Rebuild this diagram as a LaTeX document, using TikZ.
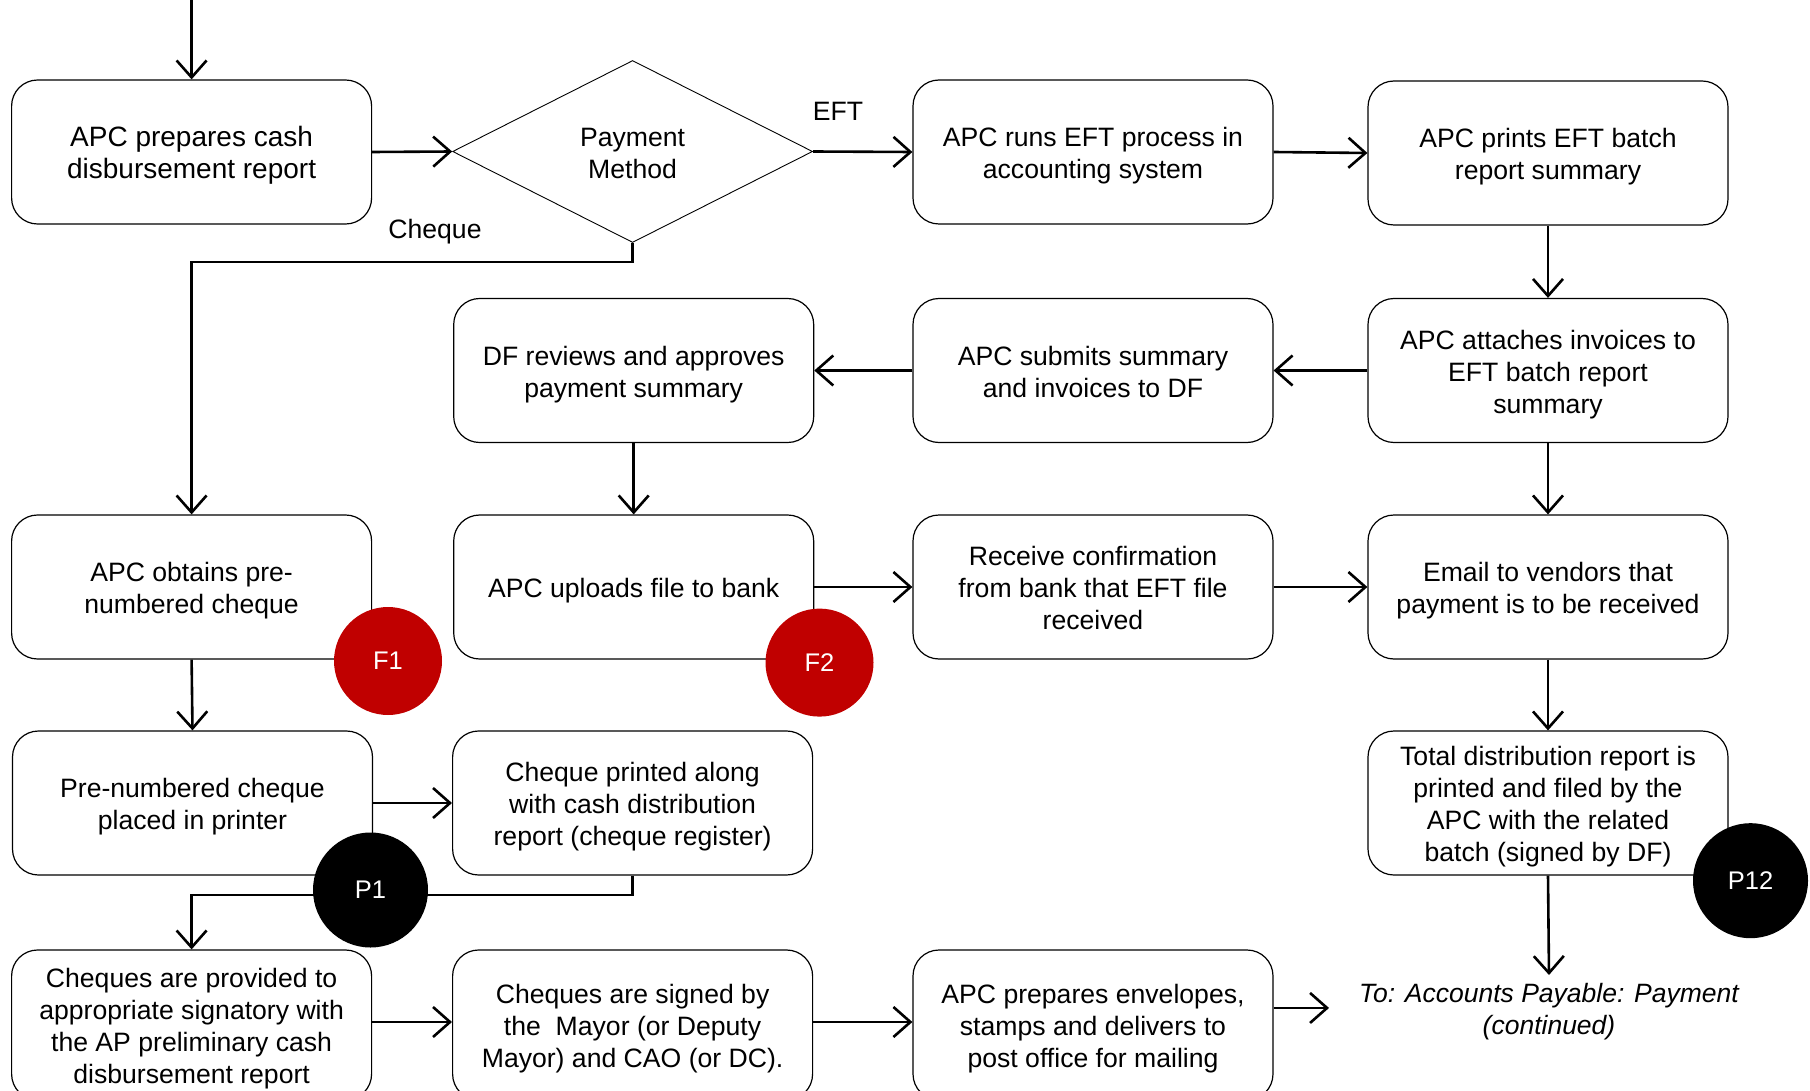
\documentclass[tikz,border=0pt]{standalone}
\usepackage{fontspec}
\setmainfont{Liberation Sans}
\usetikzlibrary{arrows.meta,shapes.geometric}
\definecolor{fred}{HTML}{C00000}
\newcommand\topst{\rule{0pt}{27.5pt}}
\newcommand\botst{\rule[-6pt]{0pt}{0pt}}
\begin{document}
\begin{tikzpicture}[x=1pt,y=-1pt,
  font=\fontsize{26.6}{32}\selectfont,
  box/.style={draw, line width=1.2pt, rounded corners=26pt, minimum width=360pt,
    minimum height=144pt, align=center, inner sep=0pt},
  lowbox/.style={box, minimum height=150pt},
  conn/.style={line width=2.6pt, -{Straight Barb[length=17pt,width=30pt]}},
  fcirc/.style={circle, fill=fred, text=white, minimum size=108pt, inner sep=0pt,
    font=\fontsize{25.5}{30}\selectfont},
  pcirc/.style={circle, fill=black, text=white, minimum size=115pt, inner sep=0pt,
    font=\fontsize{25.5}{30}\selectfont},
  lbl/.style={inner sep=0pt}]
\useasboundingbox (0,0) rectangle (1810,1091);

% row 1
\node[box, font=\fontsize{28}{32.3}\selectfont] (A) at (191.6,152) {\topst APC prepares cash\\disbursement report\botst};
\node[diamond, draw, line width=0.9pt, minimum width=360pt, minimum height=182pt,
  inner sep=0pt, align=center] (D) at (632.6,151.5) {\topst Payment\\Method\botst};
\node[box] (run) at (1093,152) {\topst APC runs EFT process in\\accounting system\botst};
\node[box] (prt) at (1548,153) {\topst APC prints EFT batch\\report summary\botst};
% row 2
\node[box] (df) at (633.7,370.5) {\topst DF reviews and approves\\payment summary\botst};
\node[box] (sub) at (1093,370.5) {\topst APC submits summary\\and invoices to DF\botst};
\node[box] (att) at (1548,370.5) {\topst APC attaches invoices to\\EFT batch report\\summary\botst};
% row 3
\node[box] (obt) at (191.6,587) {\topst APC obtains pre-\\numbered cheque\botst};
\node[box] (upl) at (633.7,587) {\topst APC uploads file to bank\botst};
\node[box] (rec) at (1093,587) {\topst Receive confirmation\\from bank that EFT file\\received\botst};
\node[box] (eml) at (1548,587) {\topst Email to vendors that\\payment is to be received\botst};
% row 4
\node[box] (pre) at (192.5,803) {\topst Pre-numbered cheque\\placed in printer\botst};
\node[box] (chq) at (632.6,803) {\topst Cheque printed along\\with cash distribution\\report (cheque register)\botst};
\node[box] (tot) at (1548,803) {\topst Total distribution report is\\printed and filed by the\\APC with the related\\batch (signed by DF)\botst};
% row 5
\node[lowbox] (prov) at (191.6,1025) {\topst Cheques are provided to\\appropriate signatory with\\the AP preliminary cash\\disbursement report\botst};
\node[lowbox] (sig) at (632.6,1025) {\topst Cheques are signed by\\the\ \ Mayor (or Deputy\\Mayor) and CAO (or DC).\botst};
\node[lowbox] (env) at (1093,1025) {\topst APC prepares envelopes,\\stamps and delivers to\\post office for mailing\botst};
\node[anchor=north, inner xsep=30pt, inner ysep=0pt, align=center,
  font=\fontsize{26.5}{32}\selectfont\itshape] (to) at (1549,975)
  {\topst To: Accounts Payable: Payment\\(continued)\botst};

% labels
\node[lbl] (eft) at (838,111) {EFT};
\node[lbl] (chlbl) at (435,232) {Cheque};

% connectors
\coordinate (top) at (191.6,0);
\draw[conn] (top) -- (A.north);
\draw[conn] (A.east) -- (D.west);
\draw[conn] (D.east) -- (run.west);
\draw[conn] (run.east) -- (prt.west);
\draw[conn] (prt.south) -- (att.north);
\draw[conn] (att.west) -- (sub.east);
\draw[conn] (sub.west) -- (df.east);
\draw[conn] (df.south) -- (upl.north);
\draw[conn] (D.south) -- ++(0,19) -| (obt.north);
\draw[conn] (att.south) -- (eml.north);
\draw[conn] (upl.east) -- (rec.west);
\draw[conn] (rec.east) -- (eml.west);
\draw[conn] (eml.south) -- (tot.north);
\draw[conn] (tot.south) -- (to.north);
\draw[conn] (obt.south) -- (pre.north);
\draw[conn] (pre.east) -- (chq.west);
\draw[conn] (chq.south) -- ++(0,19.5) -| (prov.north);
\draw[conn] ([yshift=3pt]prov.east) -- ([yshift=3pt]sig.west);
\draw[conn] ([yshift=3pt]sig.east) -- ([yshift=3pt]env.west);
\draw[conn] (env.east |- to.west) -- (to.west);

% markers
\node[fcirc] (F1) at (388,661) {F1};
\node[fcirc] (F2) at (819.5,662.6) {F2};
\node[pcirc] (P1) at (370.5,890) {P1};
\node[pcirc] (P12) at (1750.5,880.7) {P12};
\end{tikzpicture}
\end{document}
